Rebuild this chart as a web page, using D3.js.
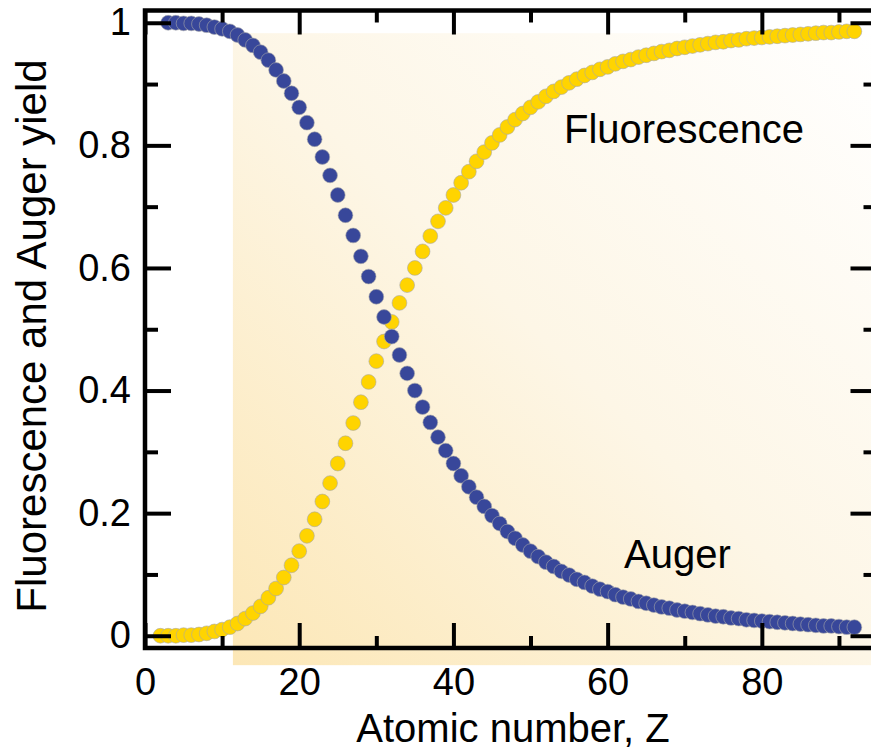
<!DOCTYPE html>
<html>
<head>
<meta charset="utf-8">
<script src="https://cdn.jsdelivr.net/npm/d3@7"></script>
<style>
  html, body { margin: 0; padding: 0; background: #ffffff; }
  svg { display: block; font-family: "Liberation Sans", Arial, Helvetica, sans-serif; }
</style>
</head>
<body>
<svg id="chart" width="871" height="752"></svg>
<script>
// ---------------- data ----------------
const fluorZStart = 2;   // first atomic number of the fluorescence series
const fluorescence = [
  0.000, 0.000, 0.000, 0.001, 0.001, 0.002, 0.004, 0.007, 0.010, 0.014,
  0.020, 0.028, 0.037, 0.048, 0.062, 0.077, 0.095, 0.115, 0.138, 0.163,
  0.190, 0.219, 0.249, 0.281, 0.314, 0.347, 0.381, 0.414, 0.448, 0.480,
  0.512, 0.543, 0.572, 0.600, 0.627, 0.652, 0.676, 0.698, 0.719, 0.739,
  0.757, 0.774, 0.789, 0.804, 0.817, 0.830, 0.842, 0.852, 0.862, 0.871,
  0.880, 0.888, 0.895, 0.902, 0.908, 0.914, 0.919, 0.924, 0.928, 0.933,
  0.937, 0.940, 0.944, 0.947, 0.950, 0.953, 0.955, 0.958, 0.960, 0.962,
  0.964, 0.966, 0.968, 0.969, 0.971, 0.972, 0.974, 0.975, 0.976, 0.977,
  0.978, 0.979, 0.980, 0.981, 0.982, 0.983, 0.984, 0.984, 0.985, 0.986,
  0.986
];
const augerZStart = 3;   // first atomic number of the Auger series
const auger = [
  1.000, 1.000, 0.999, 0.999, 0.998, 0.996, 0.993, 0.990, 0.986, 0.980,
  0.972, 0.963, 0.952, 0.939, 0.923, 0.905, 0.885, 0.862, 0.837, 0.810,
  0.781, 0.751, 0.719, 0.686, 0.653, 0.619, 0.586, 0.553, 0.520, 0.488,
  0.458, 0.428, 0.400, 0.373, 0.348, 0.324, 0.302, 0.281, 0.261, 0.243,
  0.226, 0.211, 0.196, 0.183, 0.170, 0.159, 0.148, 0.138, 0.129, 0.120,
  0.113, 0.105, 0.099, 0.092, 0.087, 0.081, 0.076, 0.072, 0.067, 0.063,
  0.060, 0.056, 0.053, 0.050, 0.047, 0.045, 0.042, 0.040, 0.038, 0.036,
  0.034, 0.032, 0.031, 0.029, 0.028, 0.026, 0.025, 0.024, 0.023, 0.022,
  0.021, 0.020, 0.019, 0.018, 0.017, 0.016, 0.016, 0.015, 0.014, 0.014
];
const xMajorTicks = [0, 20, 40, 60, 80];
const xMinorTicks = [10, 30, 50, 70, 90];
const yMajorTicks = [0, 0.2, 0.4, 0.6, 0.8, 1];
const yMajorLabels = ["0", "0.2", "0.4", "0.6", "0.8", "1"];
const yMinorTicks = [0.1, 0.3, 0.5, 0.7, 0.9];
const xTitle = "Atomic number, Z";
const yTitle = "Fluorescence and Auger yield";
const seriesLabels = ["Fluorescence", "Auger"];

// ---------------- layout ----------------
const svg = d3.select("#chart");
const x = d3.scaleLinear().domain([0, 95]).range([145, 877.5]);
const y = d3.scaleLinear().domain([-0.02, 1.02]).range([648, 10.5]);

const BLUE = "#38479a";
const YELLOW = "#ffd400";

// background gradient panel
const defs = svg.append("defs");
const grad = defs.append("linearGradient").attr("id", "bg")
  .attr("x1", 0).attr("y1", 1).attr("x2", 1).attr("y2", 0);
grad.append("stop").attr("offset", 0).attr("stop-color", "#fce7b6");
grad.append("stop").attr("offset", 0.5).attr("stop-color", "#fdf6e6");
grad.append("stop").attr("offset", 1).attr("stop-color", "#ffffff");

const panelX0 = 11.4, panelYTop = 0.983, panelYBottom = -0.048;
svg.append("rect")
  .attr("x", x(panelX0)).attr("y", y(panelYTop))
  .attr("width", x(95) - x(panelX0))
  .attr("height", y(panelYBottom) - y(panelYTop))
  .attr("fill", "url(#bg)");

// points
const fluorData = fluorescence.map((v, i) => ({ z: fluorZStart + i, v }));
const augerData = auger.map((v, i) => ({ z: augerZStart + i, v }));

function drawSeries(data, color) {
  svg.append("g").selectAll("circle").data(data).join("circle")
    .attr("cx", d => x(d.z)).attr("cy", d => y(d.v))
    .attr("r", 7.4)
    .attr("fill", color)
    .attr("stroke", "#a8a8a8").attr("stroke-width", 0.6);
}
drawSeries(fluorData, YELLOW);
drawSeries(augerData, BLUE);

// axes
const TW = 4;
function styleAxis(g) {
  g.select(".domain").remove();
  g.selectAll(".tick line").attr("stroke", "#000").attr("stroke-width", TW);
  g.selectAll(".tick text").attr("fill", "#000").attr("font-size", 38)
    .attr("font-family", "'Liberation Sans', Arial, Helvetica, sans-serif");
}
const x0 = x(0), x1 = x(95), y0 = y(-0.02), y1 = y(1.02);

svg.append("g").attr("transform", `translate(0,${y0})`)
  .call(d3.axisBottom(x).tickValues(xMajorTicks).tickSizeInner(-25).tickSizeOuter(0).tickPadding(20).tickFormat(d3.format("d")))
  .call(styleAxis);
svg.append("g").attr("transform", `translate(0,${y0})`)
  .call(d3.axisBottom(x).tickValues(xMinorTicks).tickSizeInner(-12).tickSizeOuter(0).tickFormat(""))
  .call(styleAxis);
svg.append("g").attr("transform", `translate(0,${y1})`)
  .call(d3.axisTop(x).tickValues(xMajorTicks).tickSizeInner(-24).tickSizeOuter(0).tickFormat(""))
  .call(styleAxis);
svg.append("g").attr("transform", `translate(0,${y1})`)
  .call(d3.axisTop(x).tickValues(xMinorTicks).tickSizeInner(-12).tickSizeOuter(0).tickFormat(""))
  .call(styleAxis);

svg.append("g").attr("transform", `translate(${x0},0)`)
  .call(d3.axisLeft(y).tickValues(yMajorTicks).tickSizeInner(-26).tickSizeOuter(0).tickPadding(14)
    .tickFormat((d, i) => yMajorLabels[i]))
  .call(styleAxis);
svg.append("g").attr("transform", `translate(${x0},0)`)
  .call(d3.axisLeft(y).tickValues(yMinorTicks).tickSizeInner(-13).tickSizeOuter(0).tickFormat(""))
  .call(styleAxis);
svg.append("g").attr("transform", `translate(${x1},0)`)
  .call(d3.axisRight(y).tickValues(yMajorTicks).tickSizeInner(-27).tickSizeOuter(0).tickFormat(""))
  .call(styleAxis);
svg.append("g").attr("transform", `translate(${x1},0)`)
  .call(d3.axisRight(y).tickValues(yMinorTicks).tickSizeInner(-14).tickSizeOuter(0).tickFormat(""))
  .call(styleAxis);

// frame
svg.append("rect")
  .attr("x", x0).attr("y", y1).attr("width", x1 - x0).attr("height", y0 - y1)
  .attr("fill", "none").attr("stroke", "#000").attr("stroke-width", 4.5);

// titles
svg.append("text").attr("x", 513).attr("y", 742).attr("text-anchor", "middle")
  .attr("font-size", 40).attr("fill", "#000").text(xTitle);
svg.append("text").attr("transform", "translate(46,336) rotate(-90)").attr("text-anchor", "middle")
  .attr("font-size", 42).attr("fill", "#000").text(yTitle);

// series annotations
svg.append("text").attr("x", 564).attr("y", 143).attr("font-size", 40).attr("fill", "#000").text(seriesLabels[0]);
svg.append("text").attr("x", 624).attr("y", 568).attr("font-size", 40).attr("fill", "#000").text(seriesLabels[1]);
</script>
</body>
</html>
